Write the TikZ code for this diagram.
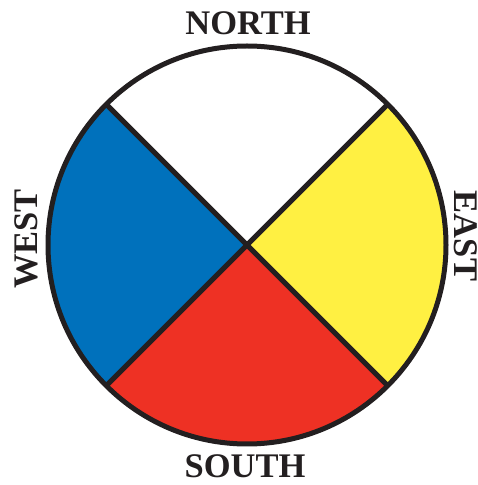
\documentclass[tikz,border=0pt]{standalone}
\usepackage{fontspec}
\setmainfont{Liberation Serif}
\definecolor{cblue}{HTML}{0071BC}
\definecolor{cyellow}{HTML}{FFF042}
\definecolor{cred}{HTML}{EE3124}
\definecolor{cblack}{HTML}{231F20}
\begin{document}
\begin{tikzpicture}[x=1pt,y=1pt,
  lbl/.style={font=\fontsize{34.5}{40}\selectfont\bfseries, text=cblack, inner sep=0pt, anchor=base},
  edge/.style={draw=cblack, line width=5pt}]
\useasboundingbox (0,0) rectangle (477,485);
\coordinate (c) at (247,240);
\def\R{199}
\fill[white] (c) -- ++(45:\R) arc[start angle=45,end angle=135,radius=\R] -- cycle;
\fill[cblue] (c) -- ++(135:\R) arc[start angle=135,end angle=225,radius=\R] -- cycle;
\fill[cred] (c) -- ++(225:\R) arc[start angle=225,end angle=315,radius=\R] -- cycle;
\fill[cyellow] (c) -- ++(315:\R) arc[start angle=-45,end angle=45,radius=\R] -- cycle;
\draw[edge] (c) ++(45:\R) coordinate (ne) -- (c) -- ++(225:\R) coordinate (sw);
\draw[edge] (c) ++(135:\R) coordinate (nw) -- (c) -- ++(315:\R) coordinate (se);
\draw[edge] (c) circle[radius=\R];
\node[lbl] (north) at (248,450) {NORTH};
\node[lbl] (south) at (245,7) {SOUTH};
\node[lbl, rotate=90] (west) at (38,246) {WEST};
\node[lbl, rotate=-90] (east) at (454,249) {EAST};
\end{tikzpicture}
\end{document}
